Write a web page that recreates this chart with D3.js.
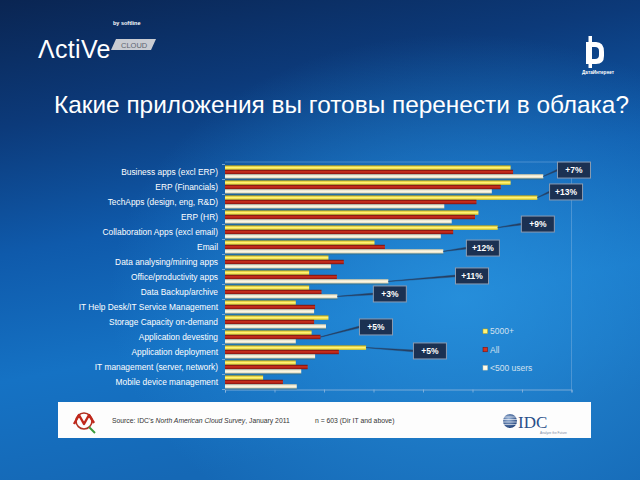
<!DOCTYPE html>
<html><head><meta charset="utf-8">
<script src="https://cdn.jsdelivr.net/npm/d3@7"></script>
<style>html,body{margin:0;padding:0;background:#0b2a5a;}svg{display:block;}</style>
</head><body>
<script>
// ---- data ----
const categories = ["Business apps (excl ERP)","ERP (Financials)","TechApps (design, eng, R&D)","ERP (HR)","Collaboration Apps (excl email)","Email","Data analysing/mining apps","Office/productivity apps","Data Backup/archive","IT Help Desk/IT Service Management","Storage Capacity on-demand","Application devesting","Application deployment","IT management (server, network)","Mobile device management"];
const seriesNames = ["5000+","All","<500 users"];
const s5000 = [57.7,57.7,63.1,51.2,55.1,30.2,20.9,17.0,17.0,14.3,20.9,17.5,28.5,14.3,7.7];
const sAll  = [58.2,55.7,50.8,50.5,46.1,32.3,24.0,22.6,19.5,18.2,18.0,19.3,23.0,16.7,11.7];
const s500  = [64.3,53.9,44.3,45.8,43.6,44.1,21.4,33.0,22.7,18.0,20.4,14.3,18.2,15.4,14.5];
const xTicks = [0,10,20,30,40,50,60,70];
// annotations: text, category index, series index, box centre (value units, row units)
const annText   = ["+7%","+13%","+9%","+12%","+11%","+3%","+5%","+5%"];
const annCat    = [0,2,4,5,7,8,11,12];
const annSeries = [2,0,0,2,2,2,1,0];
const annBoxX   = [70.5,68.9,63.2,52.1,49.9,33.3,30.5,41.4];
const annBoxRow = [-0.13,1.33,3.47,5.07,6.93,8.13,10.33,11.93];
const titleText = "Какие приложения вы готовы перенести в облака?";

const W=640,H=480;
const svg=d3.select("body").append("svg").attr("width",W).attr("height",H);
const defs=svg.append("defs");

// background
const bg=defs.append("linearGradient").attr("id","bg").attr("x1",0).attr("y1",0).attr("x2",0.25).attr("y2",1);
[["0%","#0a2552"],["25%","#0c3a7a"],["50%","#0f5aab"],["75%","#1572c4"],["100%","#1568b5"]].forEach(s=>bg.append("stop").attr("offset",s[0]).attr("stop-color",s[1]));
const rg=defs.append("radialGradient").attr("id","glow").attr("cx",0.72).attr("cy",0.62).attr("r",0.55);
rg.append("stop").attr("offset","0%").attr("stop-color","#2a95e0").attr("stop-opacity",0.8);
rg.append("stop").attr("offset","100%").attr("stop-color","#2a95e0").attr("stop-opacity",0);
svg.append("rect").attr("width",W).attr("height",H).attr("fill","url(#bg)");
svg.append("rect").attr("width",W).attr("height",H).attr("fill","url(#glow)");

// bar gradients
const barCols=[["#c9a700","#fff47c","#e6cf1e"],["#6e0b0b","#d2321f","#7f0f0f"],["#cfc6a4","#fffbea","#d9d0b0"]];
barCols.forEach((c,i)=>{
  const g=defs.append("linearGradient").attr("id","bar"+i).attr("x1",0).attr("y1",0).attr("x2",0).attr("y2",1);
  g.append("stop").attr("offset","0%").attr("stop-color",c[0]);
  g.append("stop").attr("offset","45%").attr("stop-color",c[1]);
  g.append("stop").attr("offset","100%").attr("stop-color",c[2]);
});

// logos
const lg=svg.append("g");
lg.append("text").attr("x",38).attr("y",58).attr("fill","#fff").attr("font-family","Liberation Sans, Arial").attr("font-size",25).attr("font-weight",300).attr("letter-spacing",0.3).text("ΛctiVe");
lg.append("path").attr("d","M116,39 L156,39 L151,50 L111,50 Z").attr("fill","#c9ccd2");
lg.append("text").attr("x",121).attr("y",47.8).attr("fill","#5d6570").attr("font-family","Liberation Sans, Arial").attr("font-size",7.5).text("CLOUD");
lg.append("text").attr("x",113).attr("y",25).attr("fill","#fff").attr("font-family","Liberation Sans, Arial").attr("font-size",5.5).attr("font-weight","bold").text("by softline");
// right logo
lg.append("path").attr("d","M586,42 L596,42 Q604,42 604,52 L604,56 Q604,64 596,64 L586,64 Z M590,47 L590,59 L595,59 Q599,59 599,55 L599,51 Q599,47 595,47 Z").attr("fill","#fff").attr("fill-rule","evenodd");
lg.append("rect").attr("x",588.5).attr("y",36).attr("width",3.5).attr("height",32).attr("fill","#fff");
lg.append("text").attr("x",598).attr("y",73.5).attr("text-anchor","middle").attr("fill","#fff").attr("font-family","Liberation Sans, Arial").attr("font-size",4.6).attr("font-weight","bold").text("ДатаИнтернет");

// title
svg.append("text").attr("x",54).attr("y",112.5).attr("fill","#fff").attr("font-family","Liberation Sans, Arial").attr("font-size",24.4).text(titleText);

// scales
const x=d3.scaleLinear().domain([0,70]).range([225,571.5]);
const y=d3.scaleBand().domain(categories).range([164.5,389.5]).paddingInner(0.12).paddingOuter(0.06);
const ys=d3.scaleBand().domain(seriesNames).range([0,y.bandwidth()]);

// plot border (top & right)
svg.append("path").attr("d",`M${x(0)},162 L${x(70)},162 L${x(70)},${y.range()[1]}`).attr("fill","none").attr("stroke","#7fb2e0").attr("stroke-opacity",0.6).attr("stroke-width",0.8);

// x axis
const xa=svg.append("g").attr("transform",`translate(0,${y.range()[1]})`).call(d3.axisBottom(x).tickValues(xTicks).tickSize(3).tickFormat(""));
xa.selectAll("path,line").attr("stroke","#8fb6dd").attr("stroke-width",0.8);
// y axis (ticks at category boundaries)
const yb=svg.append("g");
yb.selectAll("line").data(d3.range(categories.length+1)).join("line")
  .attr("x1",x(0)-3).attr("x2",x(0)).attr("y1",i=>y.range()[0]+i*y.step()).attr("y2",i=>y.range()[0]+i*y.step())
  .attr("stroke","#8fb6dd").attr("stroke-width",0.8);

// labels
svg.append("g").selectAll("text").data(categories).join("text")
  .attr("x",218).attr("y",d=>y(d)+y.bandwidth()/2).attr("dy","0.35em").attr("text-anchor","end")
  .attr("fill","#fff").attr("font-family","Liberation Sans, Arial").attr("font-size",8.4).text(d=>d);

// bars
const allSeries=[s5000,sAll,s500];
const bars=svg.append("g");
allSeries.forEach((vals,si)=>{
  bars.selectAll(".b"+si).data(vals).join("rect").attr("class","b"+si)
    .attr("x",x(0)).attr("y",(v,i)=>y(categories[i])+ys(seriesNames[si]))
    .attr("width",v=>x(v)-x(0)).attr("height",ys.bandwidth())
    .attr("fill","url(#bar"+si+")");
});
// subtle shadow under each group
bars.selectAll(".sh").data(s500).join("rect").attr("class","sh")
  .attr("x",x(0)).attr("y",(v,i)=>y(categories[i])+y.bandwidth()).attr("width",v=>x(v)-x(0)).attr("height",0.8)
  .attr("fill","#3d6a6a").attr("opacity",0.7);

// annotations
const ann=svg.append("g");
annText.forEach((t,k)=>{
  const si=annSeries[k], ci=annCat[k];
  const vals=allSeries[si];
  const x0=x(vals[ci]), y0=y(categories[ci])+ys(seriesNames[si])+ys.bandwidth()/2;
  const cx=x(annBoxX[k]), cy=y.range()[0]+y.step()*(annBoxRow[k]+0.5);
  const bw=33,bh=16;
  ann.append("path").attr("d",`M${x0},${y0-0.2} L${cx-bw/2},${cy-0.9} L${cx-bw/2},${cy+0.9} L${x0},${y0+0.2} Z`).attr("fill","#263f62").attr("stroke","#263f62").attr("stroke-width",0.4);
  ann.append("rect").attr("x",cx-bw/2).attr("y",cy-bh/2).attr("width",bw).attr("height",bh)
    .attr("fill","#1b3152").attr("stroke","#8c9cb2").attr("stroke-width",1);
  ann.append("text").attr("x",cx).attr("y",cy).attr("dy","0.35em").attr("text-anchor","middle")
    .attr("fill","#fff").attr("font-family","Liberation Sans, Arial").attr("font-size",8.5).attr("font-weight","bold").text(t);
});

// legend
const leg=svg.append("g");
seriesNames.forEach((n,i)=>{
  const ly=331.5+i*18.3;
  leg.append("rect").attr("x",483).attr("y",ly-2.5).attr("width",4.5).attr("height",4.5).attr("fill",barCols[i][1]).attr("stroke",barCols[i][0]).attr("stroke-width",0.5);
  leg.append("text").attr("x",490).attr("y",ly).attr("dy","0.35em").attr("fill","#d2e0ee").attr("font-family","Liberation Sans, Arial").attr("font-size",8.5).text(n);
});

// footer
const ft=svg.append("g");
ft.append("rect").attr("x",58).attr("y",402).attr("width",533).attr("height",36).attr("fill","#fdfdfd");
// small analysis logo (left)
ft.append("circle").attr("cx",84).attr("cy",421).attr("r",8).attr("fill","none").attr("stroke","#b03020").attr("stroke-width",1.6);
ft.append("path").attr("d","M74,424 L79,415 L84,424 L89,415 L94,423").attr("fill","none").attr("stroke","#c0281c").attr("stroke-width",2.4).attr("stroke-linejoin","round");
ft.append("line").attr("x1",89).attr("y1",427).attr("x2",95).attr("y2",433).attr("stroke","#3a9a3a").attr("stroke-width",2);
const src=ft.append("text").attr("x",112).attr("y",423).attr("fill","#333").attr("font-family","Liberation Sans, Arial").attr("font-size",6.8);
src.append("tspan").text("Source: IDC's ");
src.append("tspan").attr("font-style","italic").text("North American Cloud Survey");
src.append("tspan").text(", January 2011");
ft.append("text").attr("x",315).attr("y",423).attr("fill","#333").attr("font-family","Liberation Sans, Arial").attr("font-size",6.8).text("n = 603 (Dir IT and above)");
// IDC logo
const gl=defs.append("radialGradient").attr("id","globe").attr("cx",0.4).attr("cy",0.35).attr("r",0.7);
gl.append("stop").attr("offset","0%").attr("stop-color","#9ab4d8");
gl.append("stop").attr("offset","100%").attr("stop-color","#1d3f78");
ft.append("circle").attr("cx",510).attr("cy",421).attr("r",7).attr("fill","url(#globe)");
[-4,-1.5,1,3.5].forEach(d=>ft.append("line").attr("x1",500).attr("x2",520).attr("y1",421+d).attr("y2",421+d).attr("stroke","#fff").attr("stroke-width",0.6));
ft.append("text").attr("x",518).attr("y",428).attr("fill","#2a4f8a").attr("font-family","Liberation Serif, Times New Roman").attr("font-size",17).text("IDC");
ft.append("text").attr("x",540).attr("y",433.5).attr("fill","#7a8aa0").attr("font-family","Liberation Sans, Arial").attr("font-size",3.2).text("Analyze the Future");
</script>
</body></html>
